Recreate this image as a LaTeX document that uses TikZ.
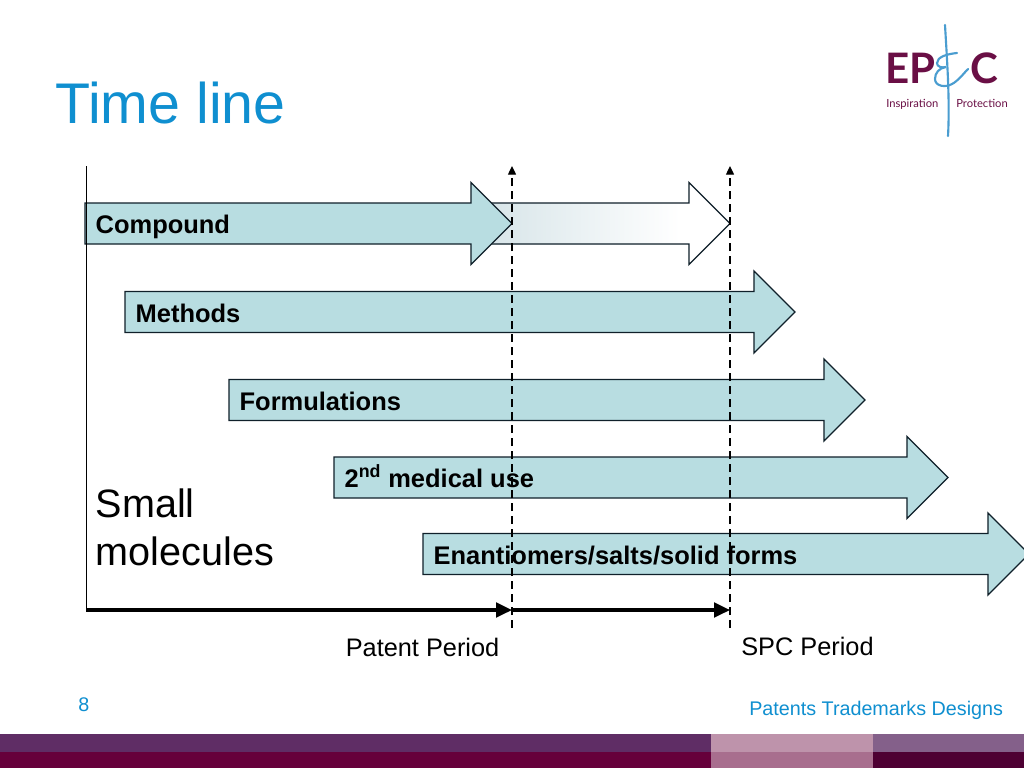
\documentclass[tikz,border=0pt]{standalone}
\usepackage{fontspec}
\setmainfont{Liberation Sans}
\newfontfamily\logofont{Lato}
\usetikzlibrary{arrows.meta,positioning,shapes.arrows}
\definecolor{titleblue}{HTML}{0F8FD0}
\definecolor{barfill}{HTML}{B8DDE1}
\definecolor{barline}{HTML}{10202A}
\definecolor{logored}{HTML}{6A0F45}
\definecolor{logoblue}{HTML}{4A9DD0}
\definecolor{bandlefttop}{HTML}{5F2D65}
\definecolor{bandleftlow}{HTML}{66003B}
\definecolor{bandmidtop}{HTML}{BE93AB}
\definecolor{bandmidlow}{HTML}{A86E8E}
\definecolor{bandrighttop}{HTML}{84608A}
\definecolor{bandrightlow}{HTML}{4E0033}
\definecolor{fadestart}{HTML}{D6E4E8}
\pgfdeclarehorizontalshading{barfade}{100bp}{color(0bp)=(fadestart); color(25bp)=(fadestart); color(65bp)=(white); color(100bp)=(white)}
\tikzset{
  bar/.style={single arrow,draw=barline,fill=barfill,line width=0.95pt,anchor=tail,outer sep=0pt,
    inner xsep=0pt,inner ysep=14.9pt,single arrow head extend=15.4pt,single arrow tip angle=90},
  barlab/.style={font=\fontsize{19.1}{23}\selectfont\bfseries,text=black,inner sep=0pt,text height=15.5pt,text depth=0pt},
  lab/.style={font=\fontsize{19}{23}\selectfont,text=black,inner sep=0pt},
  foot/.style={font=\fontsize{14.8}{18}\selectfont,text=titleblue,inner sep=0pt},
  guide/.style={black,line width=1pt,dash pattern=on 6pt off 3.75pt,-{Triangle[length=6.5pt,width=6pt]}},
  span/.style={black,line width=2.3pt,-{Triangle[length=12pt,width=11pt]}},
  logotext/.style={font=\fontsize{8.4}{10}\logofont,text=logored,inner sep=0pt},
  logomark/.style={font=\fontsize{31.5}{34}\logofont\bfseries,text=logored,inner sep=0pt},
  logoline/.style={logoblue,line width=1.6pt,line cap=round},
}

\begin{document}
\begin{tikzpicture}[x=0.75pt,y=0.75pt]
  \useasboundingbox (0,-768) rectangle (1024,0);
  \fill[white] (0,-768) rectangle (1024,0);
  % footer bands
  \fill[bandlefttop] (0,-752) rectangle (711,-734);
  \fill[bandleftlow] (0,-768) rectangle (711,-752);
  \fill[bandmidtop] (711,-752) rectangle (873,-734);
  \fill[bandmidlow] (711,-768) rectangle (873,-752);
  \fill[bandrighttop] (873,-752) rectangle (1024,-734);
  \fill[bandrightlow] (873,-768) rectangle (1024,-752);

  \node[anchor=base west,inner sep=0pt,text=titleblue,font=\fontsize{43}{50}\selectfont] (title) at (55,-123) {Time line};

  % logo
  \node[logomark,anchor=base west] (logoep) at (885,-83) {EP};
  \node[logomark,anchor=base west] (logoc) at (970,-83) {C};
  \node[logotext,anchor=base west] (logoin) at (886,-107) {Inspiration};
  \node[logotext,anchor=base west] (logopr) at (956,-107) {Protection};
  \draw[logoline] (945,-25) .. controls (947,-60) and (950,-100) .. (948,-136);
  \draw[logoline] (957,-53) .. controls (947,-54) and (937,-57) .. (937,-63)
    .. controls (937,-67) and (942,-68) .. (946,-67)
    .. controls (939,-68) and (935,-73) .. (935,-79)
    .. controls (935,-86) and (945,-88) .. (952,-84)
    .. controls (958,-81) and (964,-73) .. (968,-69);

  % bars
  \node[bar,shade,shading=barfade,minimum height=250*0.75pt] (fade) at (480,-223.5) {};
  \node[bar,minimum height=427*0.75pt] (compound) at (85,-223.5) {};
  \node[bar,minimum height=670*0.75pt] (methods) at (125,-312) {};
  \node[bar,minimum height=636*0.75pt] (formul) at (229,-400) {};
  \node[bar,minimum height=614*0.75pt] (medical) at (334,-477.5) {};
  \node[bar,minimum height=606*0.75pt] (enant) at (423,-554) {};

  % axes and period lines
  \coordinate (origin) at (86,-610);
  \coordinate (axistop) at (86,-166);
  \coordinate (patentend) at (512,-610);
  \coordinate (spcend) at (730,-610);
  \coordinate (patentlow) at (512,-628);
  \coordinate (patenttop) at (512,-166);
  \coordinate (spclow) at (730,-628);
  \coordinate (spctop) at (730,-166);
  \draw[black,line width=0.7pt] (origin) -- (axistop);
  \draw[guide] (patentlow) -- (patenttop);
  \draw[guide] (spclow) -- (spctop);
  \draw[span] (origin) -- (patentend);
  \draw[span] (patentend) -- (spcend);

  \node[barlab,right=7.8pt of compound.tail] (compoundlab) {Compound};
  \node[barlab,right=7.8pt of methods.tail] (methodslab) {Methods};
  \node[barlab,right=7.8pt of formul.tail] (formullab) {Formulations};
  \node[barlab,right=7.8pt of medical.tail] (medicallab) {2\textsuperscript{nd} medical use};
  \node[barlab,right=7.8pt of enant.tail] (enantlab) {Enantiomers/salts/solid forms};

  \node[anchor=base west,inner sep=0pt,align=left,font=\fontsize{29.7}{36}\selectfont] (small) at (95.5,-565) {Small\\molecules};
  \node[lab,anchor=base west] (patentlab) at (345.5,-656) {Patent Period};
  \node[lab,anchor=base west] (spclab) at (741,-655) {SPC Period};
  \node[foot,anchor=base west] (pageno) at (78,-711.5) {8};
  \node[foot,anchor=base west] (footer) at (749,-715) {Patents Trademarks Designs};
\end{tikzpicture}
\end{document}
